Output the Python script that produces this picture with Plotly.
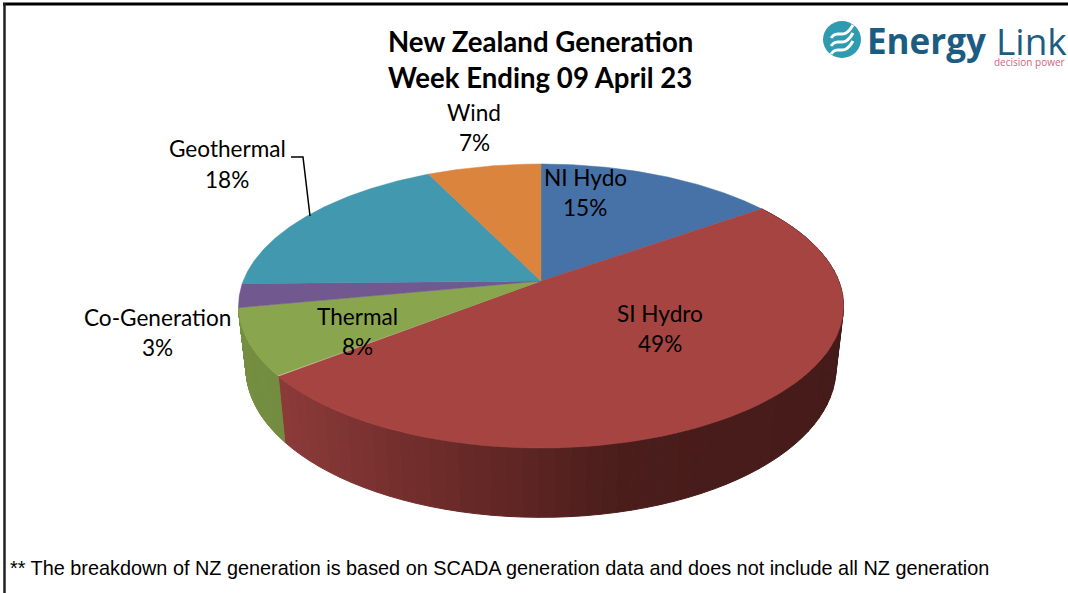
import numpy as np
import plotly.graph_objects as go

# ---- data ----
CATEGORIES = ["NI Hydo", "SI Hydro", "Thermal", "Co-Generation", "Geothermal", "Wind"]
SHARES = [15.2, 49.2, 7.6, 2.7, 18.1, 7.2]
TITLE_LINES = ["New Zealand Generation", "Week Ending 09 April 23"]
FOOTNOTE = "** The breakdown of NZ generation is based on SCADA generation data and does not include all NZ generation"

# ---- styles ----
TOP_COLORS = ["#4672A7", "#A64442", "#89A54E", "#71588F", "#4198AF", "#DB843D"]
SIDE_STOPS = {
    "SI Hydro": [(280, (0x8C, 0x3B, 0x39)), (420, (0x70, 0x2D, 0x2B)), (540, (0x5A, 0x24, 0x22)),
                 (620, (0x4A, 0x1D, 0x1B)), (840, (0x45, 0x1B, 0x19))],
    "Thermal": [(238, (0x76, 0x90, 0x42)), (285, (0x72, 0x8B, 0x40))],
}
LABEL_CENTERS = {
    "NI Hydo": (585, 177, 207),
    "SI Hydro": (660, 313, 343),
    "Thermal": (357, 316, 346),
    "Co-Generation": (157, 317, 347),
    "Geothermal": (227, 148, 179),
    "Wind": (474, 112, 142),
}
LABEL_SIZE = 22.6

# ---- perspective pie geometry (pixel space) ----
CX, CY = 541, 281
PERSP = 0.176
FX, FY = 297.8, 137.6
SHRINK_X, STRETCH_Y, DEPTH = 0.975, 1.05, 61


def rim(frac):
    a = np.asarray(frac) * 2 * np.pi
    X, Y = np.sin(a), -np.cos(a)
    d = 1 - PERSP * Y
    return FX * X / d, FY * Y / d


def mix(stops, x):
    xs = [s[0] for s in stops]
    ch = [np.interp(x, xs, [s[1][i] for s in stops]) for i in range(3)]
    return "rgb(%d,%d,%d)" % tuple(int(round(c)) for c in ch)


fig = go.Figure()
total = sum(SHARES)
bounds = np.cumsum([0] + SHARES) / total

# side walls first, so that the top surface covers the hidden part
for i, name in enumerate(CATEGORIES):
    if name not in SIDE_STOPS:
        continue
    fr = np.linspace(bounds[i], bounds[i + 1], 70)
    for a, b in zip(fr[:-1], fr[1:]):
        f = np.array([a, b])
        rx, ry = rim(f)
        px = np.r_[rx, (rx * SHRINK_X)[::-1]] + CX
        py = np.r_[ry, (ry * STRETCH_Y + DEPTH)[::-1]] + CY
        col = mix(SIDE_STOPS[name], float(px.mean()))
        fig.add_trace(go.Scatter(x=np.r_[px, px[0]], y=np.r_[py, py[0]], mode="lines", fill="toself",
                                 fillcolor=col, line=dict(color=col, width=1), hoverinfo="skip"))

# top surface
for i, name in enumerate(CATEGORIES):
    fr = np.linspace(bounds[i], bounds[i + 1], 120)
    rx, ry = rim(fr)
    px = np.r_[CX, rx + CX, CX]
    py = np.r_[CY, ry + CY, CY]
    fig.add_trace(go.Scatter(x=px, y=py, mode="lines", fill="toself", fillcolor=TOP_COLORS[i],
                             line=dict(color=TOP_COLORS[i], width=0.5), name=name, hoverinfo="name"))

# leader line for Geothermal
fig.add_trace(go.Scatter(x=[291, 303, 310], y=[157, 157, 216], mode="lines",
                         line=dict(color="black", width=1.5), hoverinfo="skip"))

ann = []
for name, v in zip(CATEGORIES, SHARES):
    x, y1, y2 = LABEL_CENTERS[name]
    ann.append(dict(x=x, y=y1, text=name, font=dict(size=LABEL_SIZE)))
    ann.append(dict(x=x, y=y2, text=f"{round(v)}%", font=dict(size=LABEL_SIZE)))
ann.append(dict(x=540, y=41, text=f"<b>{TITLE_LINES[0]}</b>", font=dict(size=27.6)))
ann.append(dict(x=540, y=77, text=f"<b>{TITLE_LINES[1]}</b>", font=dict(size=27.6)))
for a in ann:
    a["font"].update(family="Lato", color="black")
ann.append(dict(x=8, y=568, xanchor="left", text=FOOTNOTE,
                font=dict(family="Liberation Sans", size=19.85, color="black")))
# logo wordmark
ann.append(dict(x=865, y=40, xanchor="left", text="<b>Energy</b>",
                font=dict(family="Open Sans", size=35, color="#1B5C82")))
ann.append(dict(x=994, y=40, xanchor="left", text="Link",
                font=dict(family="Open Sans", size=37, color="#1B5C82")))
ann.append(dict(x=1067, y=62, xanchor="right", text="decision power",
                font=dict(family="Open Sans", size=10, color="#D0647F")))
for a in ann:
    a.update(xref="x", yref="y", showarrow=False)

shapes = [
    dict(type="line", xref="x", yref="y", x0=3, x1=1068, y0=4, y1=4, line=dict(color="black", width=3)),
    dict(type="line", xref="x", yref="y", x0=4.5, x1=4.5, y0=3, y1=593, line=dict(color="#222222", width=2.5)),
    dict(type="circle", xref="x", yref="y", x0=823, x1=861, y0=21, y1=58,
         fillcolor="#2F9BB0", line=dict(width=0)),
]
for dy in (-8, 0, 8):
    shapes.append(dict(type="path", xref="x", yref="y",
                       path=f"M 831 {46+dy} C 838 {36+dy}, 843 {50+dy}, 853 {33+dy}",
                       line=dict(color="white", width=3)))

fig.update_layout(
    width=1068, height=593, margin=dict(l=0, r=0, t=0, b=0), showlegend=False,
    paper_bgcolor="white", plot_bgcolor="white", annotations=ann, shapes=shapes,
    xaxis=dict(range=[0, 1068], visible=False, fixedrange=True),
    yaxis=dict(range=[593, 0], visible=False, fixedrange=True),
)
fig.write_html("out.html", post_script="document.body.style.margin='0';document.body.style.overflow='hidden';",
               config={"displayModeBar": False})
